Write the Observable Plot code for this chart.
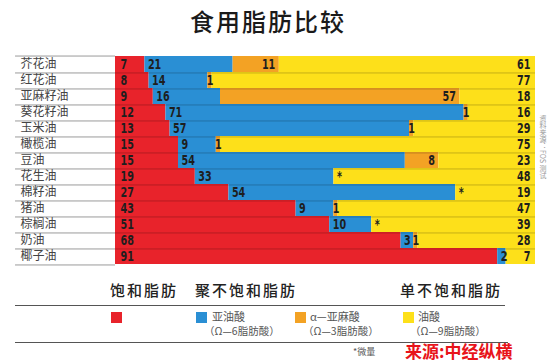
<!DOCTYPE html>
<html>
<head>
<meta charset="utf-8">
<script src="https://cdn.jsdelivr.net/npm/d3@7"></script>
<script src="https://cdn.jsdelivr.net/npm/@observablehq/plot@0.6"></script>
<style>
  html, body { margin: 0; padding: 0; background: #fff; }
  #wrap { position: relative; width: 553px; height: 363px; overflow: hidden; background: #fff;
          font-family: "Noto Sans CJK SC", sans-serif; }
  #chart { position: absolute; left: 0; top: 0; }
  .t { position: absolute; white-space: nowrap; line-height: 1; }
  .hr { position: absolute; height: 0; border-top: 1.5px solid #555; }
  .sw { position: absolute; width: 11px; height: 11px; }
</style>
</head>
<body>
<div id="wrap">
  <div id="chart"></div>
</div>
<script>
// ---- data (percent of total fat) ----
const oils = ["芥花油","红花油","亚麻籽油","葵花籽油","玉米油","橄榄油","豆油","花生油","棉籽油","猪油","棕榈油","奶油","椰子油"];
const saturated = [7, 8, 9, 12, 13, 15, 15, 19, 27, 43, 51, 68, 91];
const linoleic  = [21, 14, 16, 71, 57, 9, 54, 33, 54, 9, 10, 3, 2];
const alphaLinolenic = [11, 1, 57, 1, 1, 1, 8, "*", "*", 1, "*", 1, 0]; // "*" = trace
const oleic     = [61, 77, 18, 16, 29, 75, 23, 48, 19, 47, 39, 28, 7];

const colors = { sat: "#e8232b", la: "#2a8fd4", ala: "#f3a224", ole: "#fde01a" };

// ---- build segments ----
const segs = [];
const labels = [];
const traces = [];
oils.forEach((oil, i) => {
  const s = saturated[i], la = linoleic[i];
  const ala = alphaLinolenic[i] === "*" ? 0 : alphaLinolenic[i];
  const o = oleic[i];
  let x = 0;
  segs.push({oil, x1: x, x2: x + s, k: "sat"});
  labels.push({oil, x: x, text: String(s), anchor: "start", dx: 5});
  x += s;
  segs.push({oil, x1: x, x2: x + la, k: "la"});
  labels.push({oil, x: x, text: String(la), anchor: "start", dx: 3});
  x += la;
  if (alphaLinolenic[i] === "*") {
    traces.push({oil, x});
    labels.push({oil, x: x, text: "*", anchor: "start", dx: 3});
  } else if (ala > 0) {
    segs.push({oil, x1: x, x2: x + ala, k: "ala"});
    if (ala === 1) labels.push({oil, x: x + ala / 2, text: "1", anchor: "middle", dx: 0});
    else labels.push({oil, x: x + ala, text: String(ala), anchor: "end", dx: -4});
  }
  x += ala;
  segs.push({oil, x1: x, x2: x + o, k: "ole"});
  labels.push({oil, x: 100, text: String(o), anchor: "end", dx: -5});
});

const plotTop = 50, plotBottom = 270;
const bw = (plotBottom - plotTop) / oils.length;
const numFont = '"DejaVu Sans", sans-serif';

const groups = d3.group(labels, d => d.anchor + "|" + d.dx);
const textMarks = [];
for (const [key, arr] of groups) {
  const [anchor, dx] = key.split("|");
  textMarks.push(Plot.text(arr, { x: "x", y: "oil", text: "text", textAnchor: anchor, dx: +dx,
    fontFamily: numFont, fontWeight: "bold", fontSize: 13, fill: "#1e1e1e" }));
}

const p = Plot.plot({
  width: 553,
  height: 363,
  marginLeft: 115,
  marginRight: 18,
  marginTop: plotTop,
  marginBottom: 363 - plotBottom,
  style: { background: "transparent", fontFamily: '"Noto Sans CJK SC", sans-serif' },
  x: { domain: [0, 100], axis: null },
  y: { domain: oils, padding: 0, label: null, axis: null },
  marks: [
    Plot.barX(segs, { x1: "x1", x2: "x2", y: "oil", fill: d => colors[d.k] }),
    Plot.ruleX(traces, { x: "x", y: "oil", stroke: colors.ala, strokeWidth: 2.5, dx: -1.2 }),
    Plot.ruleY(oils, { y: d => d, x1: -23.8, x2: 0, dy: bw / 2, stroke: "#9a9a9a", strokeWidth: 1 }),
    Plot.ruleY([oils[0]], { y: d => d, x1: -23.8, x2: 0, dy: -bw / 2, stroke: "#9a9a9a", strokeWidth: 1 }),
    Plot.ruleY(oils.slice(0, -1), { y: d => d, x1: 0, x2: 100, dy: bw / 2, stroke: "#000", strokeOpacity: 0.22, strokeWidth: 1 }),
    Plot.axisY({ tickSize: 0, textAnchor: "start", dx: -86, fontSize: 12, fill: "#444", label: null }),
    ...textMarks
  ]
});
document.getElementById("chart").appendChild(p);

// condense the numeric labels horizontally (visual style only), scaling about each label's anchor
d3.select(p).selectAll('g[aria-label="text"] text').each(function () {
  const prev = this.getAttribute("transform") || "";
  this.setAttribute("transform", `${prev} scale(0.74,1.08)`);
});

// ---- title & legend (HTML) ----
const wrap = document.getElementById("wrap");
function txt(s, left, cy, size, opts = {}) {
  const d = document.createElement("div");
  d.className = "t";
  d.textContent = s;
  d.style.left = left + "px";
  d.style.top = (cy - size / 2 - 1) + "px";
  d.style.fontSize = size + "px";
  Object.assign(d.style, opts);
  wrap.appendChild(d);
  return d;
}
txt("食用脂肪比较", 0, 22, 24, { width: "536px", textAlign: "center", fontWeight: "500", letterSpacing: "2px", color: "#1a1a1a" });

const hdr = { fontWeight: "500", letterSpacing: "2px", color: "#222" };
txt("饱和脂肪", 110, 290, 15, hdr);
txt("聚不饱和脂肪", 195, 290, 15, hdr);
txt("单不饱和脂肪", 400, 290, 15, hdr);

function hr(x1, x2, y) {
  const d = document.createElement("div");
  d.className = "hr";
  d.style.left = x1 + "px"; d.style.width = (x2 - x1) + "px"; d.style.top = y + "px";
  wrap.appendChild(d);
}
hr(15, 505, 305);
hr(15, 508, 342);

function sw(color, x) {
  const d = document.createElement("div");
  d.className = "sw";
  d.style.left = x + "px"; d.style.top = "312px"; d.style.background = color;
  wrap.appendChild(d);
}
sw(colors.sat, 111);
sw(colors.la, 196);
sw(colors.ala, 295);
sw(colors.ole, 403);
const lg = { color: "#555" };
txt("亚油酸", 212, 317, 11, lg);
txt("（Ω—6脂肪酸）", 204, 332, 10.5, lg);
txt("α—亚麻酸", 310, 317, 11, lg);
txt("（Ω—3脂肪酸）", 303, 332, 10.5, lg);
txt("油酸", 418, 317, 11, lg);
txt("（Ω—9脂肪酸）", 410, 332, 10.5, lg);

txt("*微量", 353, 352, 9, { color: "#555" });
txt("来源:中经纵横", 405, 351, 17, { color: "#e8141a", fontWeight: "bold" });

txt("资料来源：FOS 测试", 539, 150, 7, { color: "#999", writingMode: "vertical-rl", top: "115px" });
</script>
</body>
</html>
